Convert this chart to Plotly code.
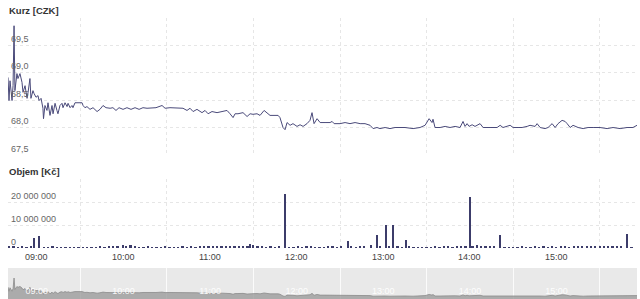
import pandas as pd
import plotly.graph_objects as go

# ---- data: minutes after 08:40 and price in CZK ----
price_min = [0, 0.7, 1.4, 2.8, 3.5, 4.2, 4.8, 6.2, 6.9, 8.3, 9.7, 10.4, 11.8, 13.2, 13.9, 15.2, 15.9,
             17.3, 18.0, 19.4, 20.8, 21.5, 22.9, 24.2, 24.6, 25.6, 27.0, 27.7, 29.1, 30.5, 31.2, 32.6,
             33.9, 34.6, 36.0, 37.4, 38.1, 39.5, 40.9, 41.6, 43.0, 44.3, 45.0, 46.4, 51.3, 52.0, 53.3,
             54.7, 56.8, 58.9, 61.7, 63.7, 65.8, 67.9, 70.7, 72.7, 74.8, 76.9, 79.7, 82.4, 85.2, 88.0,
             90.8, 93.5, 96.3, 98.4, 102.5, 106.7, 108.8, 112.2, 115.7, 118.5, 121.2, 124.0, 126.1,
             128.2, 130.9, 134.4, 136.5, 138.6, 141.3, 144.8, 148.3, 151.7, 153.8, 155.9, 157.3, 159.3,
             162.8, 165.6, 167.7, 169.7, 172.5, 174.6, 177.4, 179.4, 181.5, 187.1, 188.4, 190.5, 191.9,
             193.3, 195.4, 197.4, 200.2, 202.3, 204.4, 207.1, 209.2, 210.6, 212.0, 214.1, 216.2, 219.6,
             223.1, 224.5, 225.9, 230.0, 233.5, 236.9, 240.4, 243.9, 247.3, 250.8, 252.9, 255.6, 257.7,
             261.2, 264.6, 268.1, 271.6, 275.0, 280.6, 285.4, 288.9, 291.7, 293.7, 294.4, 295.8, 299.3,
             302.8, 306.2, 309.7, 313.1, 315.2, 316.6, 318.0, 319.4, 321.5, 323.5, 327.0, 329.1, 333.9,
             338.8, 340.9, 342.9, 347.8, 349.9, 353.3, 356.1, 359.6, 361.6, 365.1, 366.5, 368.6, 372.0,
             374.1, 376.9, 379.0, 381.0, 383.8, 385.9, 387.3, 389.4, 391.4, 394.9, 398.4, 401.8, 405.3,
             410.1, 415.0, 419.1, 424.0, 428.8, 432.9, 435.7]
price_czk = [68.91, 68.49, 68.85, 68.49, 68.76, 69.85, 68.67, 68.98, 68.89, 68.98, 68.82, 68.64, 68.76,
             68.53, 68.64, 68.89, 68.53, 68.67, 68.62, 68.55, 68.58, 68.49, 68.53, 68.35, 68.16, 68.40,
             68.31, 68.45, 68.22, 68.40, 68.25, 68.44, 68.31, 68.25, 68.40, 68.44, 68.36, 68.45, 68.38,
             68.44, 68.36, 68.40, 68.36, 68.45, 68.45, 68.40, 68.36, 68.38, 68.33, 68.36, 68.29, 68.33,
             68.40, 68.36, 68.35, 68.36, 68.31, 68.36, 68.33, 68.36, 68.33, 68.36, 68.33, 68.36, 68.35,
             68.35, 68.36, 68.40, 68.35, 68.36, 68.36, 68.35, 68.35, 68.31, 68.35, 68.29, 68.33, 68.27,
             68.31, 68.25, 68.29, 68.27, 68.29, 68.31, 68.25, 68.18, 68.25, 68.25, 68.27, 68.20, 68.25,
             68.24, 68.25, 68.22, 68.31, 68.27, 68.22, 68.22, 68.18, 68.00, 67.96, 68.09, 68.04, 68.07,
             68.02, 68.05, 68.02, 68.07, 68.13, 68.27, 68.07, 68.16, 68.09, 68.09, 68.09, 68.11, 68.07,
             68.07, 68.09, 68.07, 68.09, 68.07, 68.07, 68.04, 67.98, 68.00, 67.98, 68.00, 67.98, 68.00,
             68.00, 68.00, 67.98, 68.00, 68.04, 68.16, 68.09, 68.15, 68.00, 68.00, 68.02, 68.00, 68.02,
             68.00, 68.11, 68.02, 68.07, 68.02, 68.05, 68.02, 68.07, 68.00, 68.00, 68.00, 68.04, 68.00,
             68.04, 68.00, 68.00, 68.00, 68.02, 68.04, 68.02, 68.07, 68.00, 67.98, 68.00, 68.07, 68.00,
             68.07, 68.13, 68.11, 68.07, 68.00, 68.04, 68.00, 67.98, 68.00, 68.00, 68.00, 67.98, 68.00,
             67.98, 68.00, 68.00, 68.04]

# ---- volume: minutes after 08:40 and traded volume in millions of Kč ----
vol_min = [1, 4, 7, 10, 13, 16, 18, 21.5, 25, 28, 31, 34, 37, 40, 43, 46, 49, 52, 55, 58, 61, 64, 67, 70,
           73, 76, 79.7, 82, 85, 88, 91, 94, 97, 100, 103, 106, 109, 112, 115, 118, 121, 124, 127, 130,
           133, 136, 139, 142, 145, 148, 151, 154, 157, 160, 163, 166, 167.7, 170, 173, 176, 179, 182,
           185, 188, 191.9, 195, 198, 201, 204, 207, 210, 213, 216, 219, 222, 225, 228, 231, 235.5, 238,
           241, 244, 247, 251.5, 255.6, 258, 261.9, 264, 266.7, 270, 273, 275.7, 278, 281, 284, 287, 290,
           293, 296, 299, 302, 305, 308, 311, 314, 317, 320.1, 322, 324.9, 328, 331, 334, 337, 340.9,
           344, 347, 350, 353, 356, 359, 362, 365, 368, 371, 374, 377, 380, 383, 386, 389, 392, 395,
           398, 401, 404, 407, 410, 413, 416, 419, 422, 425, 428.8, 432]
vol_mkc = [0.5, 0.7, 0.4, 0.6, 0.3, 0.5, 4.3, 5.4, 0.4, 0.3, 0.5, 0.2, 0.3, 0.2, 0.4, 0.2, 0.3, 0.2, 0.3,
           0.4, 0.3, 0.5, 0.4, 0.6, 0.5, 0.7, 1.3, 0.6, 1.1, 0.5, 0.4, 0.3, 0.5, 0.3, 0.4, 0.2, 0.5, 0.3,
           0.4, 0.3, 0.5, 0.3, 0.6, 0.4, 0.7, 0.5, 0.6, 0.8, 0.5, 0.7, 0.9, 0.6, 0.8, 0.5, 0.7, 0.6, 1.6,
           1.2, 0.5, 0.7, 0.4, 0.6, 0.3, 0.5, 23.5, 0.4, 0.3, 0.5, 0.3, 0.6, 0.5, 0.3, 0.4, 0.3, 0.5, 0.6,
           0.4, 0.7, 3.0, 0.6, 0.4, 0.5, 0.7, 1.3, 5.6, 0.6, 10.0, 0.5, 10.0, 0.6, 0.4, 3.5, 0.5, 0.3,
           0.4, 0.2, 0.4, 0.3, 0.5, 0.4, 0.6, 0.5, 0.4, 0.6, 0.5, 0.7, 22.2, 0.6, 1.3, 0.5, 0.8, 0.6,
           0.7, 5.6, 0.4, 0.3, 0.4, 0.3, 0.5, 0.3, 0.4, 0.6, 0.4, 0.5, 0.3, 0.6, 0.4, 0.5, 0.7, 0.4,
           0.6, 0.5, 0.7, 0.5, 0.6, 0.8, 0.5, 0.7, 0.9, 0.6, 0.8, 0.7, 6.0, 0.4]

hour_labels = ["09:00", "10:00", "11:00", "12:00", "13:00", "14:00", "15:00"]
half_hours = ["09:30", "10:30", "11:30", "12:30", "13:30", "14:30", "15:30"]
price_ticks = [67.5, 68.0, 68.5, 69.0, 69.5]
vol_ticks = [0, 10_000_000, 20_000_000, 30_000_000]
vol_ticktext = ["0", "10 000 000", "20 000 000", ""]

DAY = "2024-01-15 "
start = pd.Timestamp(DAY + "08:40")
end = start + pd.Timedelta(minutes=435.7)
price_t = start + pd.to_timedelta(price_min, unit="min")
vol_t = start + pd.to_timedelta(vol_min, unit="min")
vol_kc = [v * 1_000_000 for v in vol_mkc]
hour_t = [pd.Timestamp(DAY + h) for h in hour_labels]
half_t = [pd.Timestamp(DAY + h) for h in half_hours]

LINE = "#4a4a7a"
BAR = "#3c3c6a"
GRID = "#e6e6e6"
FONT = "Liberation Sans, Arial, sans-serif"

W, H = 640, 299
xdom = [8 / W, 637 / W]

fig = go.Figure()
fig.add_trace(go.Scatter(x=price_t, y=price_czk, mode="lines", line=dict(color=LINE, width=1),
                         xaxis="x", yaxis="y", hoverinfo="skip"))
fig.add_trace(go.Bar(x=vol_t, y=vol_kc, marker=dict(color=BAR, line=dict(width=0)),
                     width=75 * 1000, xaxis="x2", yaxis="y2", hoverinfo="skip"))
fig.add_trace(go.Scatter(x=price_t, y=price_czk, mode="lines", fill="tozeroy",
                         line=dict(color="#8c8c8c", width=0.8), fillcolor="rgba(150,150,150,0.75)",
                         xaxis="x3", yaxis="y3", hoverinfo="skip"))

common_x = dict(domain=xdom, range=[start, end], type="date", tickvals=hour_t, tickformat="%H:%M",
                showgrid=False, zeroline=False, showline=False, ticks="")
minor_main = dict(tickvals=half_t, showgrid=True, gridcolor=GRID, griddash="dot", gridwidth=1, ticks="")

# hour labels under the volume panel, placed on the volume x scale
hour_annotations = [
    dict(text=lab, x=t, xref="x2", y=1 - 257 / H, yref="paper", xanchor="center", yanchor="middle",
         showarrow=False, font=dict(family=FONT, size=9, color="#444"))
    for lab, t in zip(hour_labels, hour_t)
]

fig.update_layout(
    width=W, height=H, margin=dict(l=0, r=0, t=0, b=0),
    paper_bgcolor="white", plot_bgcolor="white",
    showlegend=False, separators=", ",
    font=dict(family=FONT, size=9, color="#555"),
    bargap=0,
    xaxis=dict(**common_x, anchor="y", showticklabels=False, minor=minor_main),
    xaxis2=dict(**common_x, anchor="y2", showticklabels=False, minor=minor_main),
    xaxis3=dict(**common_x, anchor="y3", showticklabels=True, ticklabelposition="inside",
                tickfont=dict(family=FONT, size=9, color="rgba(255,255,255,0.95)"),
                minor=dict(tickvals=half_t, showgrid=True, gridcolor="#fbfbfb", gridwidth=1, ticks="")),
    yaxis=dict(domain=[1 - 155 / H, 1 - 17.5 / H], range=[67.5, 70.0], tickvals=price_ticks,
               tickformat=".1f", ticklabelposition="inside top", showgrid=True, gridcolor=GRID,
               griddash="dot", zeroline=False, showline=False, ticks="",
               tickfont=dict(family=FONT, size=9, color="#666")),
    yaxis2=dict(domain=[1 - 248 / H, 1 - 179 / H], range=[0, 30_000_000], tickvals=vol_ticks,
                ticktext=vol_ticktext, ticklabelposition="inside top", showgrid=True, gridcolor=GRID,
                griddash="dot", zeroline=False, showline=False, ticks="",
                tickfont=dict(family=FONT, size=9, color="#666")),
    yaxis3=dict(domain=[0, 1 - 268 / H], range=[67.69, 70.88], showgrid=False, zeroline=False,
                showticklabels=False, showline=False),
    shapes=[dict(type="rect", xref="x3 domain", yref="y3 domain", x0=0, x1=1, y0=0, y1=1,
                 fillcolor="#e9e9e9", line=dict(width=0), layer="below")],
    annotations=[
        dict(text="<b>Kurz [CZK]</b>", x=7 / W, y=1 - 11 / H, xref="paper", yref="paper",
             xanchor="left", yanchor="middle", showarrow=False,
             font=dict(family=FONT, size=9.5, color="#333")),
        dict(text="<b>Objem [Kč]</b>", x=7 / W, y=1 - 172 / H, xref="paper", yref="paper",
             xanchor="left", yanchor="middle", showarrow=False,
             font=dict(family=FONT, size=9.5, color="#333")),
    ] + hour_annotations,
)

fig.write_html("out.html")
